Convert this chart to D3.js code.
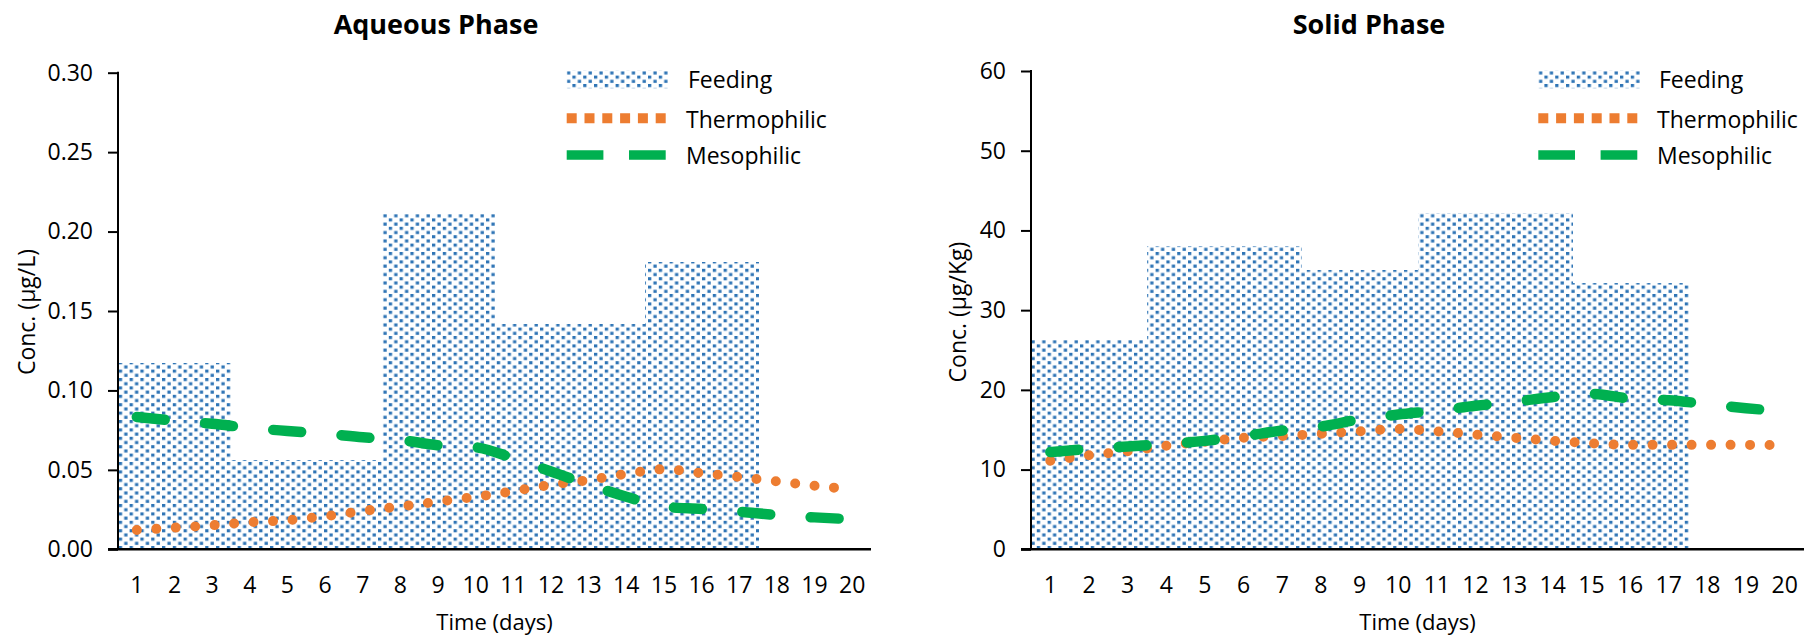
<!DOCTYPE html>
<html>
<head>
<meta charset="utf-8">
<script src="https://cdn.jsdelivr.net/npm/d3@7"></script>
<style>
  body { margin: 0; background: #fff; }
  text { font-family: "Open Sans", sans-serif; fill: #000; }
</style>
</head>
<body>
<div class="chart"></div>
<script>
// day categories
var days = ["1","2","3","4","5","6","7","8","9","10","11","12","13","14","15","16","17","18","19","20"];

// aqueous phase (ug/L)
var aqFeeding = [0.117,0.117,0.117,0.056,0.056,0.056,0.056,0.211,0.211,0.211,0.142,0.142,0.142,0.142,0.181,0.181,0.181,0,0,0];
var aqThermo  = [0.0121,0.0136,0.0151,0.0170,0.0183,0.0208,0.0241,0.0270,0.0300,0.0330,0.0366,0.0405,0.0436,0.0474,0.0504,0.0480,0.0455,0.0428,0.0400,0.0378];
var aqMeso    = [0.0833,0.0810,0.0790,0.0764,0.0745,0.0728,0.0705,0.0688,0.0655,0.0642,0.0573,0.0490,0.0407,0.0331,0.0268,0.0254,0.0237,0.0216,0.0201,0.0189];
var aqTicks   = [0, 0.05, 0.10, 0.15, 0.20, 0.25, 0.30];

// solid phase (ug/Kg)
var soFeeding = [26.3,26.3,26.3,38.1,38.1,38.1,38.1,35.0,35.0,35.0,42.2,42.2,42.2,42.2,33.4,33.4,33.4,0,0,0];
var soThermo  = [11.1,11.8,12.3,13.0,13.5,14.0,14.2,14.5,14.8,15.1,14.8,14.4,14.0,13.6,13.3,13.1,13.1,13.1,13.1,13.05];
var soMeso    = [12.2,12.6,12.9,13.2,13.6,14.2,14.9,15.4,16.3,16.9,17.4,18.0,18.5,19.1,19.5,18.9,18.7,18.2,17.7,17.3];
var soTicks   = [0, 10, 20, 30, 40, 50, 60];

var legendNames = ["Feeding", "Thermophilic", "Mesophilic"];

var blue = "#2E74B5", orange = "#ED7D31", green = "#00B050";

var svg = d3.select(".chart").append("svg")
    .attr("width", 1804)
    .attr("height", 640);

// dotted fill like the excel pattern
var pat = svg.append("defs").append("pattern")
    .attr("id", "dots")
    .attr("patternUnits", "userSpaceOnUse")
    .attr("width", 10.8)
    .attr("height", 8.4);
pat.append("rect").attr("width", 10.8).attr("height", 8.4).attr("fill", "#fff");
pat.append("rect").attr("x", 0).attr("y", 0).attr("width", 3.3).attr("height", 3.1).attr("fill", blue);
pat.append("rect").attr("x", 5.4).attr("y", 4.2).attr("width", 3.3).attr("height", 3.1).attr("fill", blue);

function drawPanel(p)
{
  var g = svg.append("g");

  var x = d3.scaleBand()
      .domain(days)
      .range([p.left, p.right])
      .padding(0);

  var y = d3.scaleLinear()
      .domain([0, p.ticks[p.ticks.length - 1]])
      .range([549.3, p.top]);

  // feeding bars, gap width 0
  g.selectAll("rect.feed")
      .data(p.feeding)
      .enter()
          .append("rect")
          .attr("class", "feed")
          .attr("x", function(d, i) { return x(days[i]); })
          .attr("width", x.bandwidth() + 0.5)
          .attr("y", function(d) { return y(d); })
          .attr("height", function(d) { return y(0) - y(d); })
          .attr("fill", "url(#dots)")
          .attr("shape-rendering", "crispEdges");

  var line = d3.line()
      .x(function(d, i) { return x(days[i]) + x.bandwidth() / 2; })
      .y(function(d) { return y(d); })
      .curve(d3.curveMonotoneX);

  g.append("path")
      .datum(p.thermo)
      .attr("d", line)
      .attr("fill", "none")
      .attr("stroke", orange)
      .attr("stroke-width", 10)
      .attr("stroke-linecap", "round")
      .attr("stroke-dasharray", "0,19.5");

  g.append("path")
      .datum(p.meso)
      .attr("d", line)
      .attr("fill", "none")
      .attr("stroke", green)
      .attr("stroke-width", 10.5)
      .attr("stroke-linecap", "round")
      .attr("stroke-dasharray", "28,40.5");

  // y axis
  var yAxis = g.append("g")
      .attr("transform", "translate(" + p.left + ",0)")
      .call(d3.axisLeft(y)
          .tickValues(p.ticks)
          .tickFormat(p.fmt)
          .tickSize(10)
          .tickSizeOuter(0)
          .tickPadding(15));
  yAxis.select(".domain").remove();
  yAxis.selectAll(".tick line").attr("stroke", "#000").attr("stroke-width", 2);
  yAxis.selectAll(".tick text")
      .attr("font-size", 23)
      .attr("font-family", "Open Sans")
      .attr("fill", "#000");

  g.append("line")
      .attr("x1", p.left).attr("x2", p.left)
      .attr("y1", y(p.ticks[p.ticks.length - 1]) - 1).attr("y2", y(0))
      .attr("stroke", "#000").attr("stroke-width", 2);
  g.append("line")
      .attr("x1", p.left - 10).attr("x2", p.axisEnd)
      .attr("y1", y(0)).attr("y2", y(0))
      .attr("stroke", "#000").attr("stroke-width", 2.5);

  // x labels
  g.selectAll("text.day")
      .data(days)
      .enter()
          .append("text")
          .attr("class", "day")
          .attr("x", function(d) { return x(d) + x.bandwidth() / 2; })
          .attr("y", 593)
          .attr("text-anchor", "middle")
          .attr("font-size", 23)
          .text(function(d) { return d; });

  g.append("text")
      .attr("x", p.titleX)
      .attr("y", 34)
      .attr("text-anchor", "middle")
      .attr("font-size", 27)
      .attr("font-weight", "bold")
      .text(p.title);

  g.append("text")
      .attr("x", (p.left + p.right) / 2)
      .attr("y", 630)
      .attr("text-anchor", "middle")
      .attr("font-size", 22)
      .text("Time (days)");

  g.append("text")
      .attr("transform", "translate(" + p.ylabX + ",312) rotate(-90)")
      .attr("text-anchor", "middle")
      .attr("font-size", 23)
      .text(p.ylab);

  // legend
  var lg = g.append("g");
  lg.append("rect")
      .attr("x", p.legX).attr("y", 70.7)
      .attr("width", 102).attr("height", 17.6)
      .attr("fill", "url(#dots)");
  lg.append("line")
      .attr("x1", p.legX).attr("x2", p.legX + 99)
      .attr("y1", 118.3).attr("y2", 118.3)
      .attr("stroke", orange).attr("stroke-width", 10)
      .attr("stroke-dasharray", "10,7.8");
  lg.append("line")
      .attr("x1", p.legX).attr("x2", p.legX + 99)
      .attr("y1", 155).attr("y2", 155)
      .attr("stroke", green).attr("stroke-width", 9.5)
      .attr("stroke-dasharray", "36.7,25.6");
  lg.selectAll("text")
      .data(legendNames)
      .enter()
          .append("text")
          .attr("x", function(d, i) { return p.legTextX + (i == 0 ? 2 : 0); })
          .attr("y", function(d, i) { return [88.3, 128.3, 164.3][i]; })
          .attr("font-size", 23)
          .text(function(d) { return d; });
}

drawPanel({
  left: 118, right: 871, axisEnd: 871, top: 72.7,
  feeding: aqFeeding, thermo: aqThermo, meso: aqMeso,
  ticks: aqTicks, fmt: d3.format(".2f"),
  title: "Aqueous Phase", titleX: 436,
  ylab: "Conc. (µg/L)", ylabX: 35,
  legX: 566.7, legTextX: 686
});

drawPanel({
  left: 1031, right: 1804, axisEnd: 1804, top: 71,
  feeding: soFeeding, thermo: soThermo, meso: soMeso,
  ticks: soTicks, fmt: d3.format("d"),
  title: "Solid Phase", titleX: 1369,
  ylab: "Conc. (µg/Kg)", ylabX: 966,
  legX: 1538.3, legTextX: 1657
});
</script>
</body>
</html>
